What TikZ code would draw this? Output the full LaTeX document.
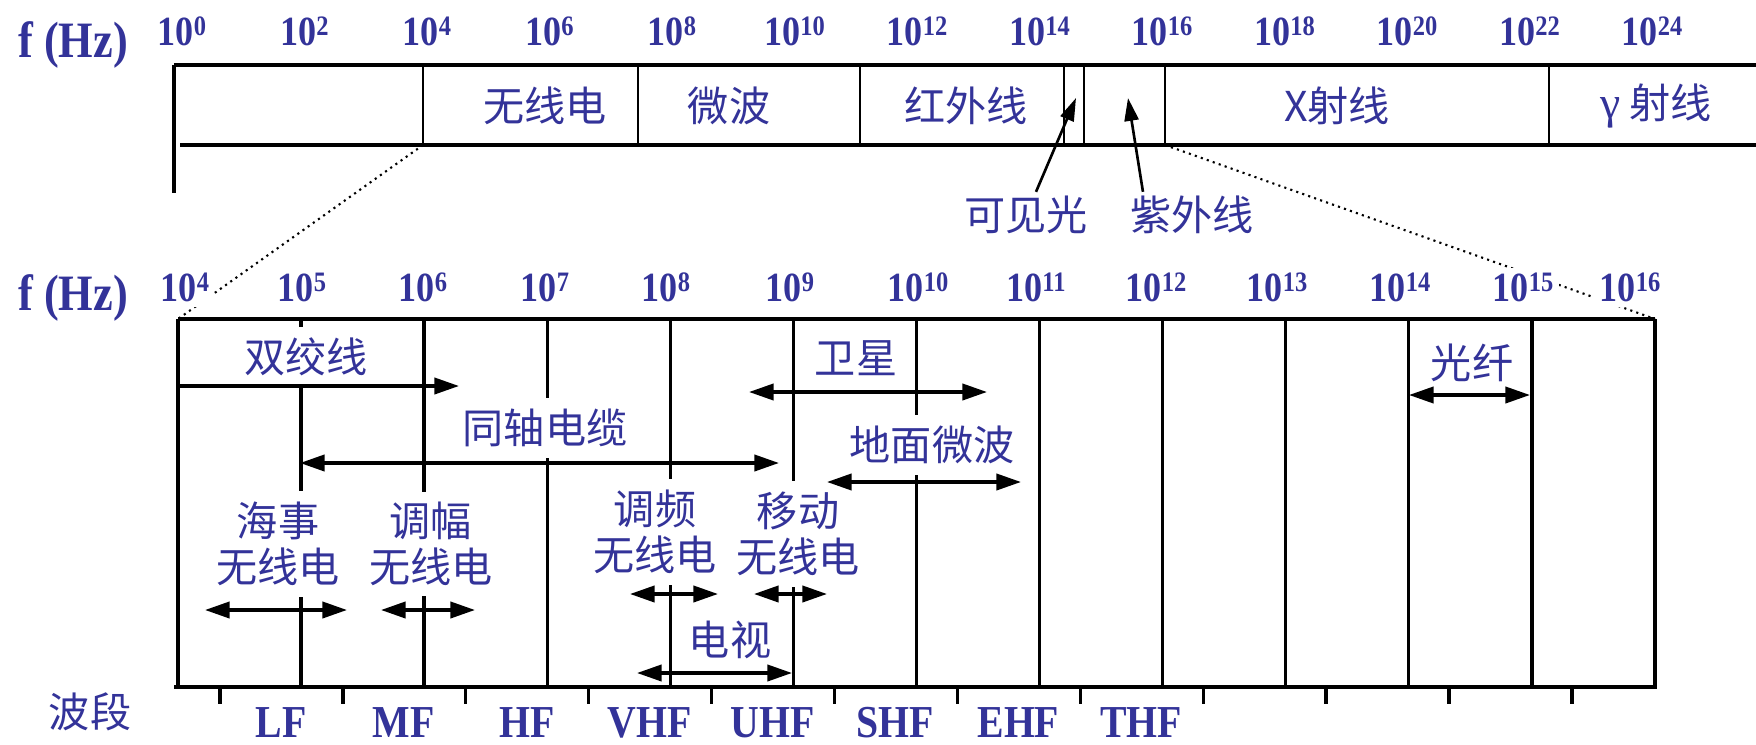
\documentclass[tikz,border=0pt]{standalone}
\usepackage{fontspec}
\setmainfont{Liberation Serif}
\newfontfamily\numfont[FakeStretch=0.87]{Liberation Serif}
\newfontfamily\cjk{Noto Sans CJK SC}
\usetikzlibrary{arrows.meta}

\definecolor{bandblue}{RGB}{51,51,153}
\newcommand{\tenpow}[1]{10\raisebox{2.6pt}{\fontsize{8}{8}\selectfont #1}}

\tikzset{
  num/.style={font=\fontsize{11.8}{13}\selectfont\numfont\bfseries, text=bandblue, fill=white, inner sep=1.5pt, anchor=base},
  hzlabel/.style={font=\fontsize{14.5}{16}\selectfont\numfont\bfseries, text=bandblue, anchor=base},
  bandname/.style={font=\fontsize{13}{15}\selectfont\numfont\bfseries, text=bandblue, anchor=base, inner sep=0.5pt},
  zh/.style={font=\fontsize{11.7}{13.1}\selectfont\cjk, text=bandblue, align=center, inner sep=1pt},
  zhbox/.style={zh, fill=white, inner ysep=3pt},
  divider/.style={line width=0.7pt},
  gridline/.style={line width=0.95pt},
  heavy/.style={line width=1.2pt},
  zoomline/.style={line width=0.6pt, dash pattern=on 0.6pt off 1.2pt},
  bothway/.style={gridline, {Triangle[length=7pt,width=4.6pt]}-{Triangle[length=7pt,width=4.6pt]}},
  oneway/.style={gridline, -{Triangle[length=7pt,width=4.6pt]}},
  ptr/.style={line width=0.75pt, -{Triangle[length=6.5pt,width=4pt]}},
}

\begin{document}
\begin{tikzpicture}[x=0.01cm, y=-0.01cm]
  \useasboundingbox (0,0) rectangle (1756,745);

  % whole spectrum
  \draw[heavy] (174,65) -- (1756,65);
  \draw[heavy] (180,145) -- (1756,145);
  \draw[gridline] (174,65) -- (174,193);
  \foreach \x in {423,638,860,1064,1084,1165,1549}
    \draw[divider] (\x,65) -- (\x,145);

  \node[hzlabel] (hztop) at (73,57) {f (Hz)};
  \foreach \k in {0,...,12}{
    \pgfmathtruncatemacro\e{2*\k}
    \node[num] (t\k) at (182+122.5*\k,45) {\tenpow{\e}};
  }

  \node[zh] (radio) at (545,106) {无线电};
  \node[zh] (micro) at (729,106) {微波};
  \node[zh] (infra) at (966,106) {红外线};
  \node[zh] (xray) at (1337,106) {X射线};
  \node[zh] (gamma) at (1656,106) {{\rmfamily\fontsize{13}{13}\selectfont γ} 射线};

  \node[zh] (vis) at (1026,215) {可见光};
  \node[zh] (uv) at (1192,215) {紫外线};
  \coordinate (vistip) at (1076,98);
  \coordinate (uvtip) at (1128,98);
  \draw[ptr] ([xshift=0.1cm]vis.north) -- (vistip);
  \draw[ptr] ([xshift=-0.49cm]uv.north) -- (uvtip);

  % zoom lines
  \draw[zoomline] (423,145) -- (178,319);
  \draw[zoomline] (1165,145) -- (1655,319);

  % 10^4 .. 10^16
  \foreach \k in {1,...,11}
    \draw[gridline] (178+123.08*\k,319) -- (178+123.08*\k,687);
  \draw[gridline] (178,319) -- (178,687);
  \draw[gridline] (1655,319) -- (1655,687);
  \draw[heavy] (178,319) -- (1655,319);
  \draw[heavy] (174,687) -- (1657,687);
  \foreach \k in {0,...,11}
    \draw[gridline] (220+122.9*\k,687) -- (220+122.9*\k,704);

  \node[hzlabel] (hzlow) at (73,310) {f (Hz)};
  \foreach \e/\x in {4/185,5/302,6/423,7/545,8/666,9/790,10/918,11/1036,12/1156,13/1277,14/1400,15/1523,16/1630}
    \node[num] (b\e) at (\x,301) {\tenpow{\e}};

  \node[zh] (bands) at (90,712) {波段};
  \foreach \b [count=\i from 0] in {LF,MF,HF,VHF,UHF,SHF,EHF,THF}
    \node[bandname] (band-\b) at (281+122.9*\i,737) {\b};

  \node[zhbox] (pair) at (306,357) {双绞线};
  \node[zhbox] (coax) at (545,428) {同轴电缆};
  \node[zhbox] (sat) at (856,358) {卫星};
  \node[zhbox] (ground) at (932,445) {地面微波};
  \node[zhbox] (fibre) at (1472,363) {光纤};
  \node[zhbox] (marine) at (278,544) {海事\\无线电};
  \node[zhbox] (am) at (431,544) {调幅\\无线电};
  \node[zhbox] (fm) at (655,532) {调频\\无线电};
  \node[zhbox] (mobile) at (798,534) {移动\\无线电};
  \node[zhbox] (tv) at (730,640) {电视};

  \draw[oneway] (178,386) -- (459,386);
  \draw[bothway] (300,463) -- (779,463);
  \draw[bothway] (749,392) -- (987,392);
  \draw[bothway] (827,482) -- (1021,482);
  \draw[bothway] (1409,395) -- (1530,395);
  \draw[bothway] (205,610) -- (347,610);
  \draw[bothway] (381,610) -- (475,610);
  \draw[bothway] (630,594) -- (718,594);
  \draw[bothway] (754,594) -- (827,594);
  \draw[bothway] (637,673) -- (792,673);
\end{tikzpicture}
\end{document}
